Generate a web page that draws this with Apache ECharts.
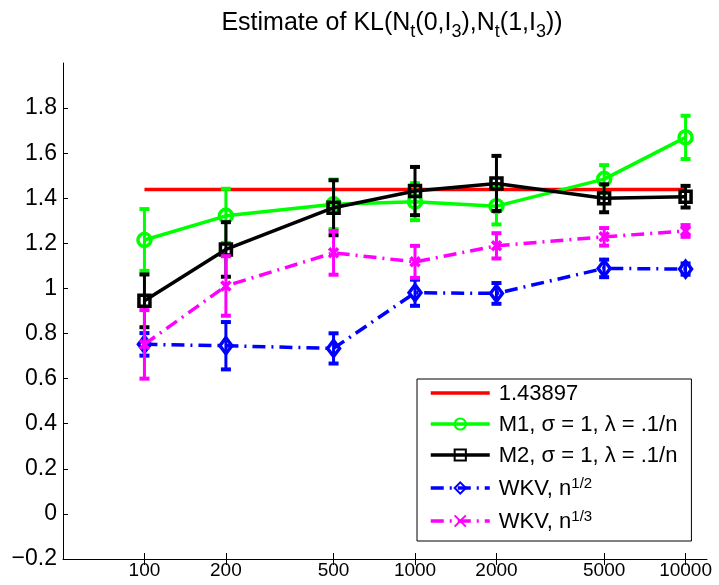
<!DOCTYPE html>
<html>
<head>
<meta charset="utf-8">
<script src="https://cdn.jsdelivr.net/npm/echarts@6/dist/echarts.min.js"></script>
<style>html,body{margin:0;padding:0;background:#fff}#c{width:719px;height:585px}</style>
</head>
<body>
<div id="c"></div>
<script>
// ---- data ----
const nValues = [100, 200, 500, 1000, 2000, 5000, 10000];
const trueKL = 1.43897;
const m1Mean = [1.215, 1.322, 1.373, 1.385, 1.365, 1.485, 1.670];
const m1Err  = [0.137, 0.120, 0.110, 0.082, 0.081, 0.062, 0.096];
const m2Mean = [0.945, 1.173, 1.358, 1.432, 1.466, 1.400, 1.407];
const m2Err  = [0.117, 0.121, 0.122, 0.107, 0.122, 0.062, 0.048];
const wkv2Mean = [0.752, 0.746, 0.734, 0.981, 0.978, 1.089, 1.086];
const wkv2Err  = [0.050, 0.105, 0.067, 0.058, 0.046, 0.039, 0.025];
const wkv3Mean = [0.752, 1.011, 1.158, 1.118, 1.189, 1.229, 1.255];
const wkv3Err  = [0.152, 0.132, 0.097, 0.071, 0.056, 0.039, 0.026];
const yTicks = [-0.2, 0, 0.2, 0.4, 0.6, 0.8, 1, 1.2, 1.4, 1.6, 1.8];

const names = ['1.43897', 'M1, σ = 1, λ = .1/n', 'M2, σ = 1, λ = .1/n', 'WKV, n1/2', 'WKV, n1/3'];
const legendRich = {
  '1.43897': '{m|1.43897}',
  'M1, σ = 1, λ = .1/n': '{m|M1, σ = 1, λ = .1/n}',
  'M2, σ = 1, λ = .1/n': '{m|M2, σ = 1, λ = .1/n}',
  'WKV, n1/2': '{m|WKV, n}{s|1/2}',
  'WKV, n1/3': '{m|WKV, n}{s|1/3}'
};
const FONT = 'Liberation Sans, Arial, Helvetica, sans-serif';

function pts(means) { return nValues.map((n, i) => [n, means[i]]); }
function errData(means, errs) { return nValues.map((n, i) => [n, means[i] - errs[i], means[i] + errs[i]]); }

function errSeries(name, means, errs, color, z) {
  return {
    type: 'custom', name: name, z: z, silent: true,
    data: errData(means, errs),
    encode: { x: 0, y: [1, 2] },
    renderItem: function (params, api) {
      const x = api.value(0);
      const lo = api.coord([x, api.value(1)]);
      const hi = api.coord([x, api.value(2)]);
      const hw = 5;
      const st = { stroke: color, lineWidth: 3, fill: null };
      const cs = { stroke: color, lineWidth: 4, fill: null };
      return { type: 'group', children: [
        { type: 'line', shape: { x1: lo[0], y1: lo[1], x2: hi[0], y2: hi[1] }, style: st },
        { type: 'line', shape: { x1: lo[0] - hw, y1: lo[1], x2: lo[0] + hw, y2: lo[1] }, style: cs },
        { type: 'line', shape: { x1: hi[0] - hw, y1: hi[1], x2: hi[0] + hw, y2: hi[1] }, style: cs }
      ]};
    }
  };
}

function lineSeries(name, means, color, symbol, size, dash, z) {
  return {
    type: 'line', name: name, z: z,
    data: pts(means),
    symbol: symbol, symbolSize: size, showSymbol: true,
    itemStyle: { color: 'rgba(0,0,0,0)', borderColor: color, borderWidth: 3.5 },
    lineStyle: { color: color, width: 3.5, type: dash || 'solid' },
    emphasis: { disabled: true }
  };
}

const dashDot = [13, 6, 2, 6];

const chart = echarts.init(document.getElementById('c'), null, { renderer: 'canvas' });
const xAxisBase = {
  type: 'log', logBase: 10, min: 50, max: 12000,
  splitLine: { show: false }, minorTick: { show: false }
};
chart.setOption({
  animation: false,
  backgroundColor: '#fff',
  title: {
    left: 387, top: 6, textAlign: 'center',
    text: '{a|Estimate of KL(N}{s|t}{a|(0,I}{s|3}{a|),N}{s|t}{a|(1,I}{s|3}{a|))}',
    textStyle: {
      fontWeight: 'normal',
      rich: {
        a: { fontSize: 25, fontWeight: 'normal', fontFamily: FONT, color: '#000', lineHeight: 30, verticalAlign: 'top' },
        s: { fontSize: 18, fontWeight: 'normal', fontFamily: FONT, color: '#000', lineHeight: 14, verticalAlign: 'bottom' }
      }
    }
  },
  grid: { left: 63, top: 63, width: 644, height: 496, containLabel: false },
  xAxis: [
    Object.assign({}, xAxisBase, {
      axisLine: { show: true, onZero: false, lineStyle: { color: '#000', width: 1 } },
      axisTick: { show: true, inside: false, length: 6, customValues: nValues, lineStyle: { color: '#000', width: 1 } },
      axisLabel: { show: true, customValues: nValues, fontSize: 19, fontFamily: FONT, color: '#000', margin: 2,
                   formatter: function (v) { return String(Math.round(v)); } }
    }),
    Object.assign({}, xAxisBase, {
      position: 'bottom',
      axisLine: { show: false, onZero: false },
      axisTick: { show: true, inside: true, length: 6, customValues: nValues, lineStyle: { color: '#000', width: 1 } },
      axisLabel: { show: false }
    })
  ],
  yAxis: {
    type: 'value', min: -0.2, max: 2.0, interval: 0.2,
    splitLine: { show: false },
    axisLine: { show: true, onZero: false, lineStyle: { color: '#000', width: 1 } },
    axisTick: { show: true, inside: true, length: 5, customValues: yTicks, lineStyle: { color: '#000' } },
    axisLabel: {
      customValues: yTicks, fontSize: 23, fontFamily: FONT, color: '#000', margin: 6,
      formatter: function (v) {
        let s = (Math.round(v * 10) / 10).toString();
        if (s.charAt(0) === '-') s = '\u2212' + s.slice(1);
        return s;
      }
    }
  },
  legend: {
    orient: 'vertical', left: 417, top: 379, z: 20,
    data: [
      { name: names[0], itemStyle: { color: 'rgba(0,0,0,0)', borderWidth: 0, opacity: 0 } },
      names[1], names[2], names[3], names[4]
    ],
    selectedMode: false,
    backgroundColor: '#fff', borderColor: '#000', borderWidth: 1,
    padding: [4, 14, 8, 12],
    itemWidth: 59, itemHeight: 14, itemGap: 9,
    lineStyle: { width: 3.5 },
    formatter: function (name) { return legendRich[name]; },
    textStyle: {
      padding: [0, 0, 0, 4],
      rich: {
        m: { fontSize: 22, fontFamily: FONT, color: '#000', lineHeight: 24, verticalAlign: 'bottom' },
        s: { fontSize: 15, fontFamily: FONT, color: '#000', lineHeight: 14, verticalAlign: 'top' }
      }
    }
  },
  series: [
    { type: 'line', name: names[0], z: 2, data: nValues.map(n => [n, trueKL]), symbol: 'none',
      lineStyle: { color: '#ff0000', width: 3.5 }, itemStyle: { color: '#ff0000' }, emphasis: { disabled: true } },
    lineSeries(names[1], m1Mean, '#00ff00', 'circle', 13, 'solid', 3),
    errSeries('m1err', m1Mean, m1Err, '#00ff00', 3.5),
    lineSeries(names[2], m2Mean, '#000000', 'rect', 11, 'solid', 4),
    errSeries('m2err', m2Mean, m2Err, '#000000', 4.5),
    lineSeries(names[3], wkv2Mean, '#0000ff', 'diamond', [12, 16], dashDot, 5),
    errSeries('w2err', wkv2Mean, wkv2Err, '#0000ff', 5.5),
    lineSeries(names[4], wkv3Mean, '#ff00ff', 'path://M0,0L10,10M10,0L0,10', 9, dashDot, 6),
    errSeries('w3err', wkv3Mean, wkv3Err, '#ff00ff', 6.5)
  ]
});
</script>
</body>
</html>
